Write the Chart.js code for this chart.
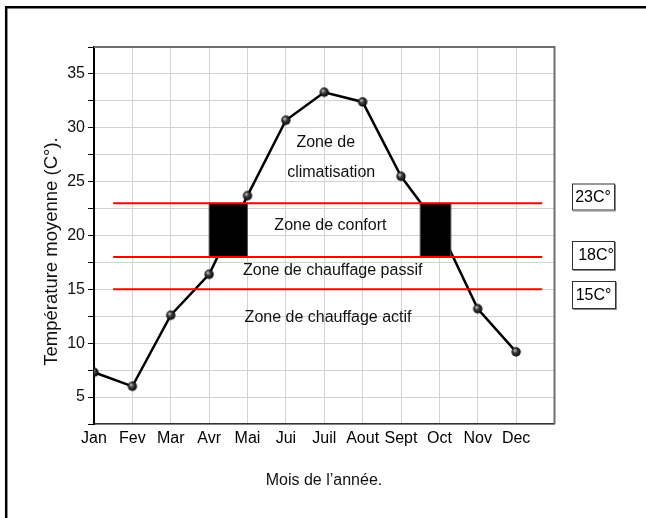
<!DOCTYPE html>
<html>
<head>
<meta charset="utf-8">
<script src="https://cdn.jsdelivr.net/npm/chart.js@4/dist/chart.umd.min.js"></script>
<style>
  html, body { margin: 0; padding: 0; background: #fff; }
  #wrap { position: relative; width: 646px; height: 518px; }
</style>
</head>
<body>
<div id="wrap"><canvas id="c" width="646" height="518"></canvas></div>
<script>
// Monthly mean temperatures (°C)
const months = ['Jan', 'Fev', 'Mar', 'Avr', 'Mai', 'Jui', 'Juil', 'Aout', 'Sept', 'Oct', 'Nov', 'Dec'];
const temperatures = [7.3, 6.0, 12.6, 16.4, 23.7, 30.7, 33.3, 32.4, 25.5, 20.7, 13.2, 9.2];

// Thermal comfort thresholds and their tags
const thresholds = [23, 18, 15];
const thresholdLabels = ['23C°', '18C°', '15C°'];

// Month-index ranges where the curve crosses the comfort band
const comfortSpans = [[3, 4], [8.5, 9.3]];

// Zone captions
const zoneNames = ['Zone de', 'climatisation', 'Zone de confort', 'Zone de chauffage passif', 'Zone de chauffage actif'];

// Y tick labels
const yTickLabels = [5, 10, 15, 20, 25, 30, 35];

// ---- placement (data units), kept apart from the values ----
const zoneAnchors = [[6.04, 28.6], [6.18, 25.8], [6.16, 20.9], [6.22, 16.7], [6.10, 12.4]];
const thresholdExtent = [0.5, 11.68];
const tagBoxes = [ // pixel boxes for the threshold tags: x, y, w, h
  [572, 183.5, 42, 26],
  [572, 241, 42, 28],
  [572, 281, 43, 27]
];

const FONT = '"Liberation Sans", Arial, sans-serif';

// Shaded ball used as point marker
const ball = (() => {
  const c = document.createElement('canvas');
  c.width = c.height = 12;
  const g = c.getContext('2d');
  const grad = g.createRadialGradient(4.5, 4.3, 0.3, 6, 6, 5.2);
  grad.addColorStop(0, '#c8c8c8');
  grad.addColorStop(0.4, '#3a3a3a');
  grad.addColorStop(1, '#000');
  g.fillStyle = grad;
  g.beginPath();
  g.arc(6, 6, 4.7, 0, Math.PI * 2);
  g.fill();
  return c;
})();

const thresholdSets = thresholds.map(t => ({
  type: 'line',
  data: [{ x: thresholdExtent[0], y: t }, { x: thresholdExtent[1], y: t }],
  borderColor: '#ff0000',
  borderWidth: 2,
  pointRadius: 0,
  tension: 0
}));

const tempSet = {
  type: 'line',
  data: months.map((m, i) => ({ x: i, y: temperatures[i] })),
  borderColor: '#000',
  borderWidth: 2.5,
  pointStyle: ball,
  pointRadius: 5,
  tension: 0
};

const TEMP_INDEX = thresholdSets.length;

const decor = {
  id: 'decor',
  afterDatasetDraw(chart, args) {
    if (args.index !== TEMP_INDEX) return;
    // comfort blocks drawn over the curve, under the threshold lines
    const { ctx, scales: { x, y } } = chart;
    ctx.save();
    ctx.fillStyle = '#000';
    ctx.strokeStyle = '#555';
    ctx.lineWidth = 1;
    comfortSpans.forEach(([a, b]) => {
      const x0 = x.getPixelForValue(a), x1 = x.getPixelForValue(b);
      const y0 = y.getPixelForValue(thresholds[0]), y1 = y.getPixelForValue(thresholds[1]);
      ctx.fillRect(x0, y0, x1 - x0, y1 - y0);
      ctx.strokeRect(x0, y0, x1 - x0, y1 - y0);
    });
    ctx.restore();
  },
  afterDraw(chart) {
    const { ctx, chartArea: ca, scales: { x, y } } = chart;
    ctx.save();

    // plot frame top and right
    ctx.strokeStyle = '#6e6e6e';
    ctx.lineWidth = 2;
    ctx.beginPath();
    ctx.moveTo(ca.left, ca.top);
    ctx.lineTo(ca.right, ca.top);
    ctx.lineTo(ca.right, ca.bottom);
    ctx.stroke();

    // outer page frame
    ctx.strokeStyle = '#000';
    ctx.lineWidth = 2.5;
    ctx.beginPath();
    ctx.moveTo(6.2, 518);
    ctx.lineTo(6.2, 7.2);
    ctx.lineTo(646, 7.2);
    ctx.stroke();

    // zone captions
    ctx.fillStyle = '#111';
    ctx.font = '16px ' + FONT;
    ctx.textAlign = 'center';
    ctx.textBaseline = 'middle';
    zoneNames.forEach((t, i) => {
      const [ax, ay] = zoneAnchors[i];
      ctx.fillText(t, x.getPixelForValue(ax), y.getPixelForValue(ay));
    });

    // threshold tags
    thresholdLabels.forEach((t, i) => {
      const [bx, by, bw, bh] = tagBoxes[i];
      ctx.fillStyle = '#fff';
      ctx.fillRect(bx, by, bw, bh);
      ctx.strokeStyle = '#333';
      ctx.lineWidth = 1;
      ctx.strokeRect(bx + 0.5, by + 0.5, bw, bh);
      ctx.strokeStyle = '#888';
      ctx.beginPath();
      ctx.moveTo(bx + bw + 1.5, by + 1);
      ctx.lineTo(bx + bw + 1.5, by + bh + 1.5);
      ctx.lineTo(bx + 1, by + bh + 1.5);
      ctx.stroke();
      ctx.fillStyle = '#000';
      ctx.font = '16px ' + FONT;
      ctx.textAlign = 'center';
      ctx.fillText(t, bx + bw / 2 + (i === 1 ? 3 : 0), by + bh / 2 + 1);
    });

    // axis titles
    ctx.fillStyle = '#111';
    ctx.font = '16px ' + FONT;
    ctx.textAlign = 'center';
    ctx.textBaseline = 'middle';
    ctx.fillText('Mois de l’année.', 324, 481);

    ctx.translate(52, 251.5);
    ctx.rotate(-Math.PI / 2);
    ctx.font = '18.5px ' + FONT;
    ctx.fillText('Température moyenne (C°).', 0, 0);

    ctx.restore();
  }
};

new Chart(document.getElementById('c'), {
  type: 'line',
  data: { datasets: [...thresholdSets, tempSet] },
  options: {
    responsive: false,
    animation: false,
    devicePixelRatio: 1,
    layout: { padding: { top: 47, right: 91.5, left: 0, bottom: 0 } },
    plugins: { legend: { display: false }, tooltip: { enabled: false } },
    scales: {
      x: {
        type: 'linear',
        min: 0,
        max: 12,
        afterFit: s => { s.height = 94; },
        ticks: {
          stepSize: 1,
          autoSkip: false,
          maxRotation: 0,
          padding: 5,
          color: '#000',
          font: { family: FONT, size: 16 },
          callback: v => months[v] ?? ''
        },
        grid: { color: '#d2d2d2', lineWidth: 1, drawTicks: false },
        border: { color: '#333', width: 1.5 }
      },
      y: {
        type: 'linear',
        min: 2.5,
        max: 37.5,
        afterFit: s => { s.width = 94; },
        ticks: {
          stepSize: 2.5,
          autoSkip: false,
          padding: 3,
          color: '#111',
          font: { family: FONT, size: 16 },
          callback: v => yTickLabels.includes(v) ? String(v) : ''
        },
        grid: { color: '#d2d2d2', lineWidth: 1, tickColor: '#000', tickLength: 6 },
        border: { color: '#000', width: 2 }
      }
    }
  },
  plugins: [decor]
});
</script>
</body>
</html>
